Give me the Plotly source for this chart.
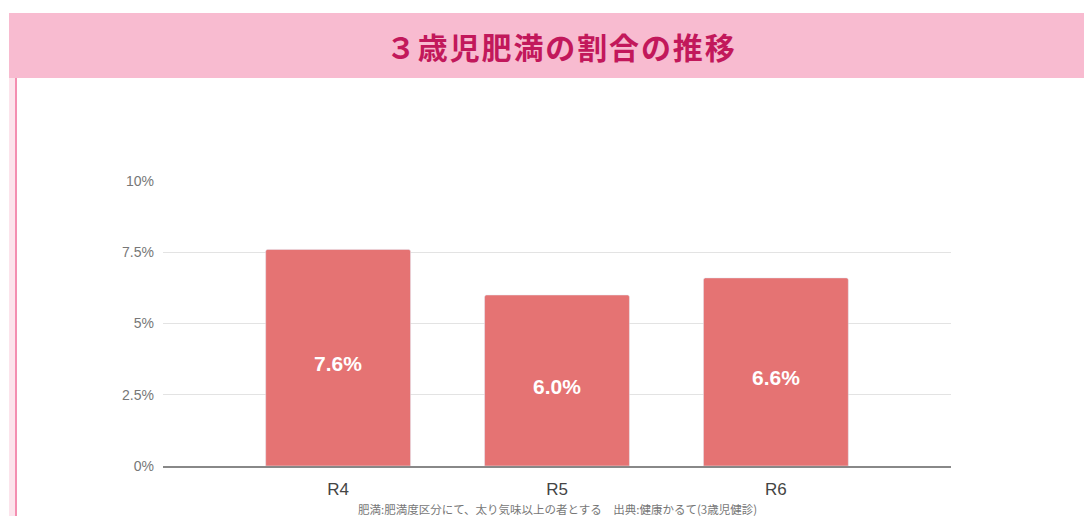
import plotly.graph_objects as go

years = ['R4', 'R5', 'R6']
obesity_rate = [7.6, 6.0, 6.6]
y_ticks = [0, 2.5, 5, 7.5, 10]
y_tick_labels = ['0%', '2.5%', '5%', '7.5%', '10%']

# page body adds an 8px offset, so positions below are screen px minus 8
W, H = 1092, 516
L, R, T, B = 155, 149, 173, 58
pw = W - L - R
ph = H - T - B
OFF = 8


def px_x(x):
    return (x - OFF - L) / pw


def px_y(y):
    return (H - B - (y - OFF)) / ph


fig = go.Figure()
fig.add_trace(
    go.Bar(
        x=years,
        y=obesity_rate,
        marker=dict(color='#E57373', cornerradius=2),
        hoverinfo='skip',
    )
)

# value labels sit a little below the bar middle
bar_labels = [
    dict(x=cat, y=val / 2, yshift=-6, text=f'{val:.1f}%', showarrow=False,
         font=dict(color='white', size=21, family='Arial, Liberation Sans', weight='bold'))
    for cat, val in zip(years, obesity_rate)
]

title = '\u200a'.join('３歳児肥満の割合の推移')

fig.update_layout(
    width=W,
    height=H,
    margin=dict(l=L, r=R, t=T, b=B),
    paper_bgcolor='white',
    plot_bgcolor='white',
    showlegend=False,
    bargap=0.338,
    xaxis=dict(
        range=[-0.8, 2.8],
        showgrid=False,
        showline=True,
        linecolor='#888888',
        linewidth=2,
        ticks='',
        ticklabelstandoff=7,
        tickfont=dict(size=17, color='#444444', family='Arial, Liberation Sans'),
    ),
    yaxis=dict(
        range=[0, 10],
        tickvals=y_ticks,
        ticktext=y_tick_labels,
        gridcolor='#E3E3E3',
        gridwidth=1,
        zeroline=False,
        ticks='',
        ticklabelstandoff=8,
        tickfont=dict(size=14, color='#777777', family='Arial, Liberation Sans'),
    ),
    shapes=[
        # header band
        dict(type='rect', xref='paper', yref='paper',
             x0=px_x(9), x1=px_x(1100), y0=px_y(78), y1=px_y(13),
             fillcolor='#F8BBD0', line=dict(width=0), layer='below'),
        # left accent bar
        dict(type='rect', xref='paper', yref='paper',
             x0=px_x(9), x1=px_x(15), y0=px_y(530), y1=px_y(78),
             fillcolor='#FCE4EC', line=dict(width=0), layer='below'),
        dict(type='rect', xref='paper', yref='paper',
             x0=px_x(15), x1=px_x(17), y0=px_y(530), y1=px_y(78),
             fillcolor='#F48FB1', line=dict(width=0), layer='below'),
    ],
    annotations=bar_labels + [
        dict(text=title, xref='paper', yref='paper',
             x=px_x(560), y=px_y(46), showarrow=False,
             xanchor='center', yanchor='middle',
             font=dict(size=30, color='#C2185B', family='Noto Sans CJK JP', weight='bold')),
        dict(text='肥満:肥満度区分にて、太り気味以上の者とする\u3000出典:健康かるて(3歳児健診)',
             xref='paper', yref='paper',
             x=px_x(557), y=px_y(509), showarrow=False,
             xanchor='center', yanchor='middle',
             font=dict(size=11.5, color='#777777', family='Noto Sans CJK JP')),
    ],
)

fig.write_html('out.html')
